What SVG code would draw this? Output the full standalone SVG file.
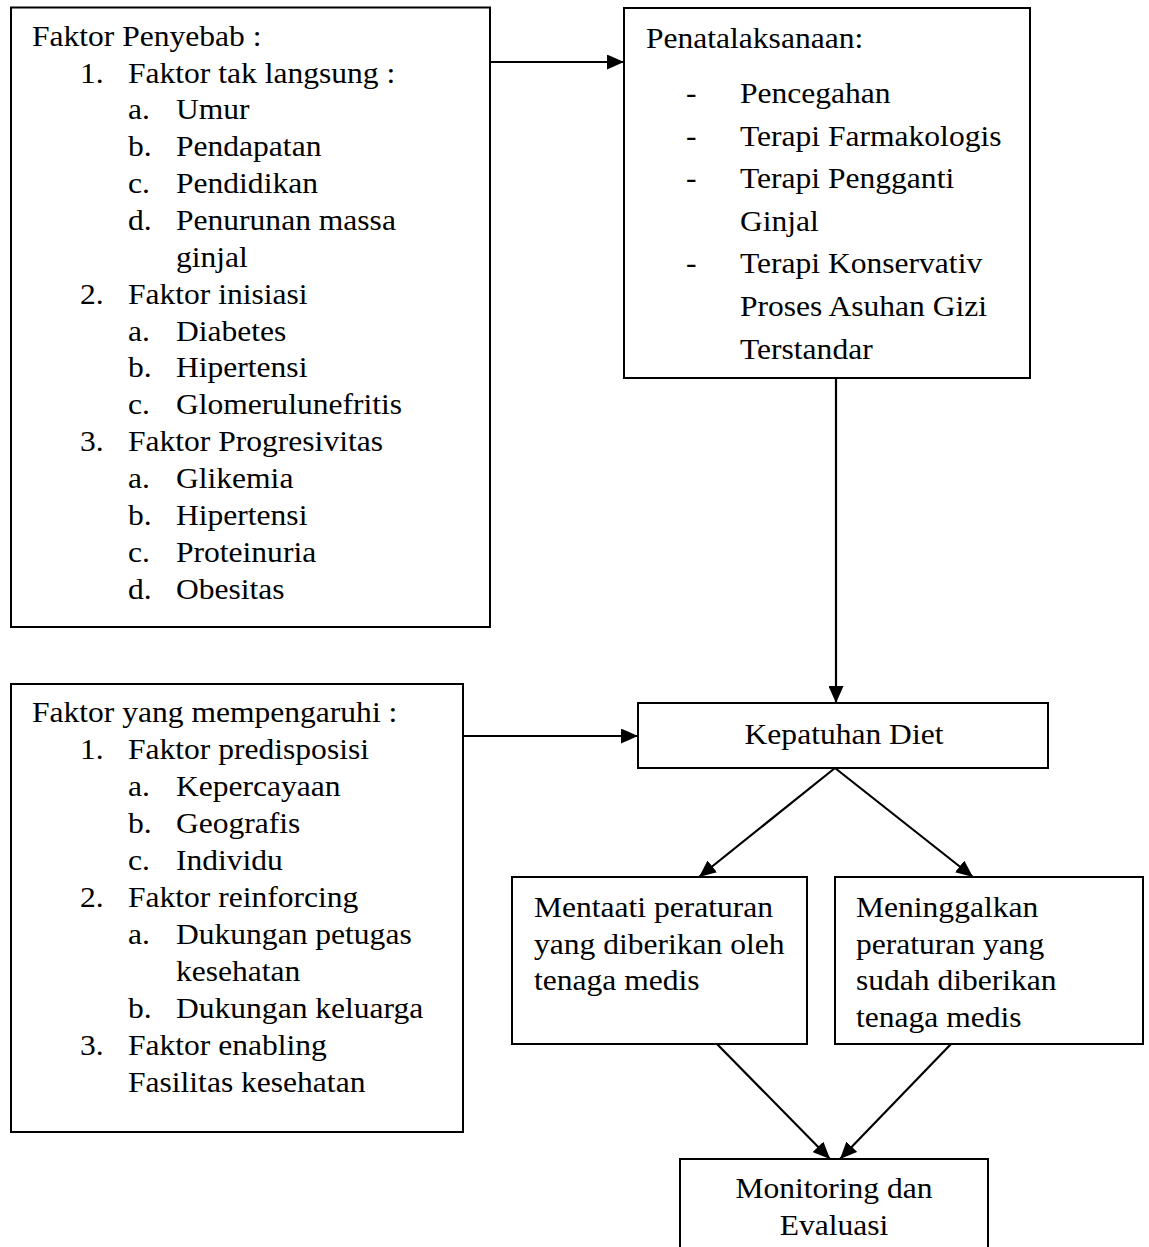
<svg xmlns="http://www.w3.org/2000/svg" width="1149" height="1247" viewBox="0 0 1149 1247">
<style>
.box{fill:#fff;stroke:#000;stroke-width:2}
.t{font-family:"Liberation Serif","Times New Roman",serif;font-size:30.5px;fill:#000}
.m{text-anchor:middle}
.c{stroke:#000;stroke-width:2.2;fill:none;marker-end:url(#ah)}
</style>
<defs>
<marker id="ah" markerUnits="userSpaceOnUse" markerWidth="17" markerHeight="15" refX="17" refY="7.5" orient="auto">
<path d="M0,0 L17,7.5 L0,15 z" fill="#000"/>
</marker>
</defs>
<rect width="1149" height="1247" fill="#fff"/>

<g id="connectors">
<line class="c" x1="490" y1="62" x2="624" y2="62"/>
<line class="c" x1="836" y1="378" x2="836" y2="703"/>
<line class="c" x1="463" y1="736" x2="638" y2="736"/>
<line class="c" x1="835" y1="768" x2="699" y2="877"/>
<line class="c" x1="835" y1="768" x2="973" y2="877"/>
<line class="c" x1="717" y1="1044" x2="830" y2="1159"/>
<line class="c" x1="951" y1="1044" x2="840" y2="1159"/>
</g>

<g id="faktor-penyebab">
<rect class="box" x="11" y="7.5" width="479" height="619.5"/>
<text class="t" transform="translate(32,45.7) scale(1.035 1)">Faktor Penyebab :</text>
<text class="t" transform="translate(80,82.6) scale(1.035 1)">1.</text>
<text class="t" transform="translate(128,82.6) scale(1.035 1)">Faktor tak langsung :</text>
<text class="t" transform="translate(128,119.4) scale(1.035 1)">a.</text>
<text class="t" transform="translate(176,119.4) scale(1.035 1)">Umur</text>
<text class="t" transform="translate(128,156.3) scale(1.035 1)">b.</text>
<text class="t" transform="translate(176,156.3) scale(1.035 1)">Pendapatan</text>
<text class="t" transform="translate(128,193.1) scale(1.035 1)">c.</text>
<text class="t" transform="translate(176,193.1) scale(1.035 1)">Pendidikan</text>
<text class="t" transform="translate(128,230) scale(1.035 1)">d.</text>
<text class="t" transform="translate(176,230) scale(1.035 1)">Penurunan massa</text>
<text class="t" transform="translate(176,266.8) scale(1.035 1)">ginjal</text>
<text class="t" transform="translate(80,303.7) scale(1.035 1)">2.</text>
<text class="t" transform="translate(128,303.7) scale(1.035 1)">Faktor inisiasi</text>
<text class="t" transform="translate(128,340.5) scale(1.035 1)">a.</text>
<text class="t" transform="translate(176,340.5) scale(1.035 1)">Diabetes</text>
<text class="t" transform="translate(128,377.4) scale(1.035 1)">b.</text>
<text class="t" transform="translate(176,377.4) scale(1.035 1)">Hipertensi</text>
<text class="t" transform="translate(128,414.2) scale(1.035 1)">c.</text>
<text class="t" transform="translate(176,414.2) scale(1.035 1)">Glomerulunefritis</text>
<text class="t" transform="translate(80,451.1) scale(1.035 1)">3.</text>
<text class="t" transform="translate(128,451.1) scale(1.035 1)">Faktor Progresivitas</text>
<text class="t" transform="translate(128,487.9) scale(1.035 1)">a.</text>
<text class="t" transform="translate(176,487.9) scale(1.035 1)">Glikemia</text>
<text class="t" transform="translate(128,524.8) scale(1.035 1)">b.</text>
<text class="t" transform="translate(176,524.8) scale(1.035 1)">Hipertensi</text>
<text class="t" transform="translate(128,561.6) scale(1.035 1)">c.</text>
<text class="t" transform="translate(176,561.6) scale(1.035 1)">Proteinuria</text>
<text class="t" transform="translate(128,598.5) scale(1.035 1)">d.</text>
<text class="t" transform="translate(176,598.5) scale(1.035 1)">Obesitas</text>
</g>

<g id="penatalaksanaan">
<rect class="box" x="624" y="8" width="406" height="370"/>
<text class="t" transform="translate(646,48) scale(1.035 1)">Penatalaksanaan:</text>
<text class="t" transform="translate(686,103) scale(1.035 1)">-</text>
<text class="t" transform="translate(740,103) scale(1.035 1)">Pencegahan</text>
<text class="t" transform="translate(686,145.6) scale(1.035 1)">-</text>
<text class="t" transform="translate(740,145.6) scale(1.035 1)">Terapi Farmakologis</text>
<text class="t" transform="translate(686,188.2) scale(1.035 1)">-</text>
<text class="t" transform="translate(740,188.2) scale(1.035 1)">Terapi Pengganti</text>
<text class="t" transform="translate(740,230.8) scale(1.035 1)">Ginjal</text>
<text class="t" transform="translate(686,273.4) scale(1.035 1)">-</text>
<text class="t" transform="translate(740,273.4) scale(1.035 1)">Terapi Konservativ</text>
<text class="t" transform="translate(740,316) scale(1.035 1)">Proses Asuhan Gizi</text>
<text class="t" transform="translate(740,358.6) scale(1.035 1)">Terstandar</text>
</g>

<g id="faktor-mempengaruhi">
<rect class="box" x="11" y="684" width="452" height="448"/>
<text class="t" transform="translate(32,722) scale(1.035 1)">Faktor yang mempengaruhi :</text>
<text class="t" transform="translate(80,759) scale(1.035 1)">1.</text>
<text class="t" transform="translate(128,759) scale(1.035 1)">Faktor predisposisi</text>
<text class="t" transform="translate(128,796) scale(1.035 1)">a.</text>
<text class="t" transform="translate(176,796) scale(1.035 1)">Kepercayaan</text>
<text class="t" transform="translate(128,833) scale(1.035 1)">b.</text>
<text class="t" transform="translate(176,833) scale(1.035 1)">Geografis</text>
<text class="t" transform="translate(128,870) scale(1.035 1)">c.</text>
<text class="t" transform="translate(176,870) scale(1.035 1)">Individu</text>
<text class="t" transform="translate(80,907) scale(1.035 1)">2.</text>
<text class="t" transform="translate(128,907) scale(1.035 1)">Faktor reinforcing</text>
<text class="t" transform="translate(128,944) scale(1.035 1)">a.</text>
<text class="t" transform="translate(176,944) scale(1.035 1)">Dukungan petugas</text>
<text class="t" transform="translate(176,981) scale(1.035 1)">kesehatan</text>
<text class="t" transform="translate(128,1018) scale(1.035 1)">b.</text>
<text class="t" transform="translate(176,1018) scale(1.035 1)">Dukungan keluarga</text>
<text class="t" transform="translate(80,1055) scale(1.035 1)">3.</text>
<text class="t" transform="translate(128,1055) scale(1.035 1)">Faktor enabling</text>
<text class="t" transform="translate(128,1092) scale(1.035 1)">Fasilitas kesehatan</text>
</g>

<g id="kepatuhan-diet">
<rect class="box" x="638" y="703" width="410" height="65"/>
<text class="t m" transform="translate(844,744) scale(1.035 1)">Kepatuhan Diet</text>
</g>

<g id="mentaati">
<rect class="box" x="512" y="877" width="295" height="167"/>
<text class="t" transform="translate(534,917) scale(1.035 1)">Mentaati peraturan</text>
<text class="t" transform="translate(534,953.5) scale(1.035 1)">yang diberikan oleh</text>
<text class="t" transform="translate(534,990) scale(1.035 1)">tenaga medis</text>
</g>

<g id="meninggalkan">
<rect class="box" x="835" y="877" width="308" height="167"/>
<text class="t" transform="translate(856,917) scale(1.035 1)">Meninggalkan</text>
<text class="t" transform="translate(856,953.5) scale(1.035 1)">peraturan yang</text>
<text class="t" transform="translate(856,990) scale(1.035 1)">sudah diberikan</text>
<text class="t" transform="translate(856,1027) scale(1.035 1)">tenaga medis</text>
</g>

<g id="monitoring">
<rect class="box" x="680" y="1159" width="308" height="110"/>
<text class="t m" transform="translate(834,1198) scale(1.035 1)">Monitoring dan</text>
<text class="t m" transform="translate(834,1235) scale(1.035 1)">Evaluasi</text>
</g>
</svg>
